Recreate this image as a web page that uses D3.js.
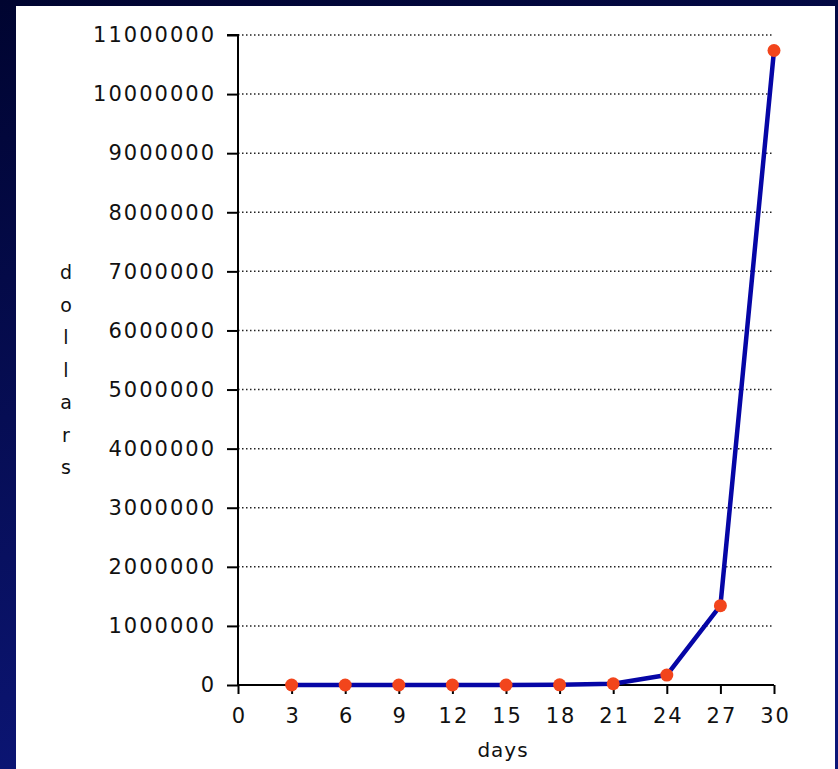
<!DOCTYPE html>
<html><head><meta charset="utf-8">
<script src="https://cdn.jsdelivr.net/npm/d3@7"></script>
<style>html,body{margin:0;padding:0;background:#000a40;}svg{display:block;}</style>
</head><body>
<svg id="c" width="838" height="769"></svg>
<script>
const days = [3, 6, 9, 12, 15, 18, 21, 24, 27, 30];
const dollars = [0.08, 0.64, 5.12, 40.96, 327.68, 2621.44, 20971.52, 167772.16, 1342177.28, 10737418.24];
const xTicks = [0, 3, 6, 9, 12, 15, 18, 21, 24, 27, 30];
const yTicks = [0, 1000000, 2000000, 3000000, 4000000, 5000000, 6000000, 7000000, 8000000, 9000000, 10000000, 11000000];
const yTitle = "dollars";
const xTitle = "days";

const svg = d3.select("#c");
const defs = svg.append("defs");
const g1 = defs.append("linearGradient").attr("id","bg").attr("x1",0).attr("y1",0).attr("x2",0.3).attr("y2",1);
g1.append("stop").attr("offset","0%").attr("stop-color","#000430");
g1.append("stop").attr("offset","100%").attr("stop-color","#0c1678");
svg.append("rect").attr("width",838).attr("height",769).attr("fill","url(#bg)");
svg.append("rect").attr("x",16).attr("y",6).attr("width",819).attr("height",763).attr("fill","#ffffff");

const x = d3.scaleLinear().domain([0,30]).range([238,774]);
const y = d3.scaleLinear().domain([0,11000000]).range([685,35]);
const font = "'DejaVu Sans', sans-serif";

// gridlines
svg.append("g").selectAll("line").data(yTicks.filter(d=>d>0)).join("line")
  .attr("x1",x(0)).attr("x2",x(30)).attr("y1",d=>y(d)).attr("y2",d=>y(d))
  .attr("stroke","#222").attr("stroke-width",1.5).attr("stroke-dasharray","1.5,2.5");

const yAxis = svg.append("g").attr("transform",`translate(${x(0)},0)`)
  .call(d3.axisLeft(y).tickValues(yTicks).tickFormat(d3.format("d")).tickSize(11).tickPadding(11));
const xAxis = svg.append("g").attr("transform",`translate(0,${y(0)})`)
  .call(d3.axisBottom(x).tickValues(xTicks).tickFormat(d3.format("d")).tickSize(9).tickPadding(14));
[yAxis,xAxis].forEach(a=>{
  a.select(".domain").attr("stroke","#000").attr("stroke-width",2);
  a.selectAll(".tick line").attr("stroke","#000").attr("stroke-width",2);
  a.selectAll("text").attr("font-family",font).attr("font-size",21).attr("fill","#111")
    .attr("letter-spacing","2px");
});
xAxis.selectAll("text").attr("dx","1px");
yAxis.select(".domain").attr("d",`M-11,${y(11000000)}H0V${y(0)}`);
xAxis.select(".domain").attr("d",`M${x(0)},0H${x(30)}`);

// line
const line = d3.line().x((d,i)=>x(days[i])).y(d=>y(d));
svg.append("path").datum(dollars).attr("d",line).attr("fill","none")
  .attr("stroke","#0606a6").attr("stroke-width",4.5).attr("stroke-linejoin","round");
svg.append("g").selectAll("circle").data(dollars).join("circle")
  .attr("cx",(d,i)=>x(days[i])).attr("cy",d=>y(d)).attr("r",6.5).attr("fill","#f2451c");

// titles
svg.append("text").attr("x",503).attr("y",757).attr("text-anchor","middle")
  .attr("font-family",font).attr("font-size",20).attr("letter-spacing","1px").attr("fill","#111").text(xTitle);
svg.append("g").selectAll("text").data(yTitle.split("")).join("text")
  .attr("x",66).attr("y",(d,i)=>279+i*32.5).attr("text-anchor","middle")
  .attr("font-family",font).attr("font-size",19).attr("fill","#111").text(d=>d);
</script>
</body></html>
